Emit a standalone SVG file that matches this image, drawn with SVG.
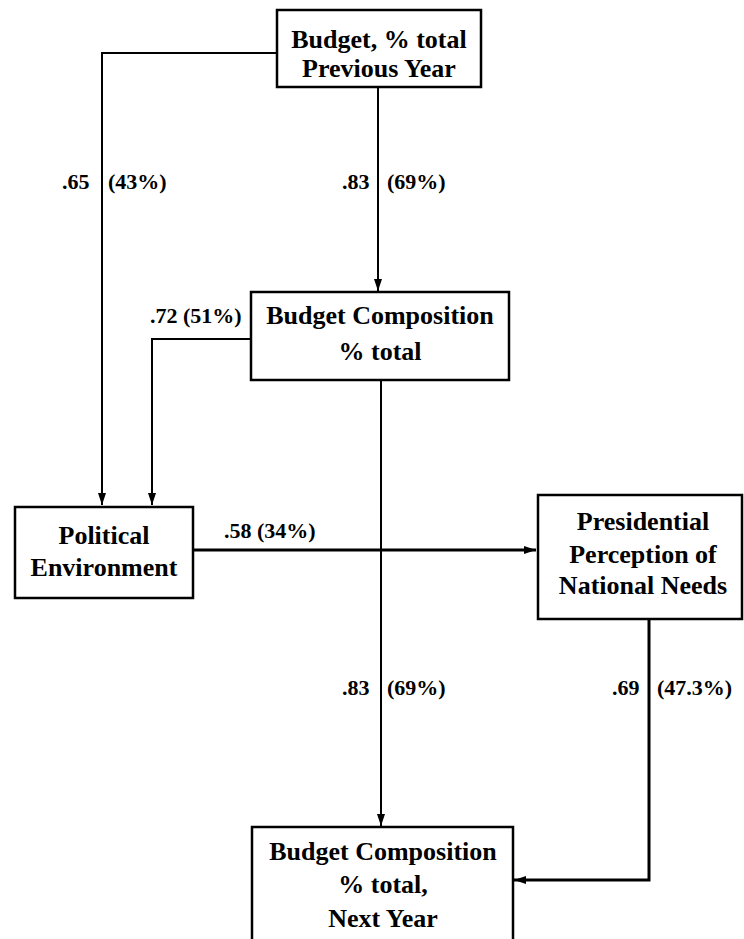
<svg xmlns="http://www.w3.org/2000/svg" width="744" height="939" viewBox="0 0 744 939">
  <style>
    .box { fill: #ffffff; stroke: #000000; stroke-width: 2.5; }
    .node { font-family: "Liberation Serif", "Times New Roman", serif; font-weight: bold; font-size: 26px; fill: #000000; text-anchor: middle; }
    .lbl { font-family: "Liberation Serif", "Times New Roman", serif; font-weight: bold; font-size: 22px; fill: #000000; }
    .wire { fill: none; stroke: #000000; stroke-width: 2; }
    .heavy { stroke-width: 3; }
  </style>
  <defs>
    <marker id="arrow" viewBox="0 0 12 8" refX="12" refY="4" markerWidth="12" markerHeight="8" markerUnits="userSpaceOnUse" orient="auto">
      <path d="M0,0 L12,4 L0,8 Z" fill="#000000"/>
    </marker>
  </defs>
  <rect width="744" height="939" fill="#ffffff"/>

  <!-- connectors -->
  <g id="connectors">
    <path class="wire" d="M277,53 H102 V505" marker-end="url(#arrow)"/>
    <path class="wire" d="M378,87 V291" marker-end="url(#arrow)"/>
    <path class="wire" d="M251,339 H152 V505" marker-end="url(#arrow)"/>
    <path class="wire" d="M381,380 V826" marker-end="url(#arrow)"/>
    <path class="wire heavy" d="M193,550 H536" marker-end="url(#arrow)"/>
    <path class="wire heavy" d="M649,620 V880 H514" marker-end="url(#arrow)"/>
  </g>

  <!-- path coefficients -->
  <g id="labels">
    <text class="lbl" x="62" y="189">.65</text>
    <text class="lbl" x="108" y="189">(43%)</text>
    <text class="lbl" x="342" y="189">.83</text>
    <text class="lbl" x="387" y="189">(69%)</text>
    <text class="lbl" x="150" y="323">.72 (51%)</text>
    <text class="lbl" x="224" y="538">.58 (34%)</text>
    <text class="lbl" x="342" y="695">.83</text>
    <text class="lbl" x="387" y="695">(69%)</text>
    <text class="lbl" x="612" y="695">.69</text>
    <text class="lbl" x="657" y="695">(47.3%)</text>
  </g>

  <g id="budget-previous">
    <rect class="box" x="277" y="10" width="204" height="77"/>
    <text class="node" x="379" y="48">Budget, % total</text>
    <text class="node" x="379" y="77">Previous Year</text>
  </g>

  <g id="budget-composition">
    <rect class="box" x="251" y="292" width="258" height="88"/>
    <text class="node" x="380" y="324">Budget Composition</text>
    <text class="node" x="380" y="360">% total</text>
  </g>

  <g id="political-environment">
    <rect class="box" x="15" y="507" width="178" height="91"/>
    <text class="node" x="104" y="544">Political</text>
    <text class="node" x="104" y="576">Environment</text>
  </g>

  <g id="presidential-perception">
    <rect class="box" x="538" y="495" width="204" height="124"/>
    <text class="node" x="643" y="530">Presidential</text>
    <text class="node" x="643" y="563">Perception of</text>
    <text class="node" x="643" y="594">National Needs</text>
  </g>

  <g id="budget-next-year">
    <rect class="box" x="252" y="827" width="261" height="130"/>
    <text class="node" x="383" y="860">Budget Composition</text>
    <text class="node" x="383" y="893">% total,</text>
    <text class="node" x="383" y="927">Next Year</text>
  </g>
</svg>
